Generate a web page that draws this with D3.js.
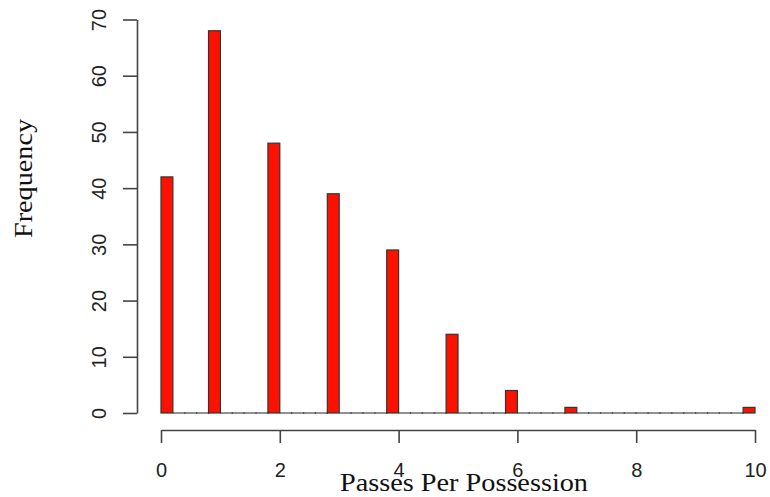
<!DOCTYPE html>
<html>
<head>
<meta charset="utf-8">
<script src="https://cdn.jsdelivr.net/npm/d3@7"></script>
<style>
  body { margin: 0; background: #fff; }
  svg { display: block; }
  .tick text { font-family: "Liberation Sans", Arial, sans-serif; }
</style>
</head>
<body>
<svg width="770" height="497"></svg>
<script>
const PASSES = [0, 1, 2, 3, 4, 5, 6, 7, 8, 9, 10]
const COUNTS = [42, 68, 48, 39, 29, 14, 4, 1, 0, 0, 1]
const BIN_WIDTH = 0.2
const X_TICKS = [0, 2, 4, 6, 8, 10]
const Y_TICKS = [0, 10, 20, 30, 40, 50, 60, 70]

const svg = d3.select('svg')
const x = d3.scaleLinear().domain([0, 10]).range([161, 755])
const y = d3.scaleLinear().domain([0, 70]).range([413, 19.5])

// R-style hist bins: right-closed, lowest included
const breaks = d3.range(0, 10 + BIN_WIDTH / 2, BIN_WIDTH)
const bins = breaks.slice(0, -1).map((b, i) => ({ x0: b, x1: breaks[i + 1], n: 0 }))
PASSES.forEach((p, i) => {
  const idx = p === 0 ? 0 : Math.round(p / BIN_WIDTH) - 1
  bins[idx].n += COUNTS[i]
})

// empty bins collapse to a flat line with tiny edge marks
const empty = bins.filter(d => d.n === 0)
const flat = svg.append('g').attr('stroke', '#555').attr('stroke-width', 1.3)
flat.selectAll('line.base')
  .data(empty)
  .enter().append('line')
  .attr('class', 'base')
  .attr('x1', d => x(d.x0))
  .attr('x2', d => x(d.x1))
  .attr('y1', y(0))
  .attr('y2', y(0))
flat.selectAll('line.edge')
  .data(empty)
  .enter().append('line')
  .attr('class', 'edge')
  .attr('x1', d => x(d.x1))
  .attr('x2', d => x(d.x1))
  .attr('y1', y(0) - 1)
  .attr('y2', y(0) + 1)

svg.append('g')
  .selectAll('rect')
  .data(bins.filter(d => d.n > 0))
  .enter().append('rect')
  .attr('x', d => x(d.x0))
  .attr('width', d => x(d.x1) - x(d.x0))
  .attr('y', d => y(d.n))
  .attr('height', d => y(0) - y(d.n))
  .attr('fill', '#ff1100')
  .attr('stroke', '#333')
  .attr('stroke-width', 1.2)

// y axis
const yAxis = svg.append('g')
  .attr('transform', 'translate(137,0)')
  .call(d3.axisLeft(y).tickValues(Y_TICKS).tickSize(14).tickSizeOuter(0))
yAxis.select('.domain').attr('stroke', '#444').attr('stroke-width', 1.6)
yAxis.selectAll('.tick line').attr('stroke', '#444').attr('stroke-width', 1.6)
yAxis.selectAll('.tick text')
  .attr('font-size', 20)
  .attr('fill', '#222')
  .attr('text-anchor', 'middle')
  .attr('transform', 'rotate(-90)')
  .attr('x', 0)
  .attr('y', -31)
  .attr('dy', 0)

// x axis
const xAxis = svg.append('g')
  .attr('transform', 'translate(0,430)')
  .call(d3.axisBottom(x).tickValues(X_TICKS).tickSize(13).tickSizeOuter(0))
xAxis.select('.domain').attr('stroke', '#444').attr('stroke-width', 1.6)
xAxis.selectAll('.tick line').attr('stroke', '#444').attr('stroke-width', 1.6)
xAxis.selectAll('.tick text')
  .attr('font-size', 20)
  .attr('fill', '#222')
  .attr('y', 47)
  .attr('dy', 0)

// titles
svg.append('text')
  .attr('x', 464)
  .attr('y', 491)
  .attr('text-anchor', 'middle')
  .attr('font-family', '"Liberation Serif", "DejaVu Serif", serif')
  .attr('font-size', 26)
  .attr('fill', '#111')
  .attr('textLength', 248)
  .attr('lengthAdjust', 'spacingAndGlyphs')
  .text('Passes Per Possession')

svg.append('text')
  .attr('transform', 'translate(32,178.5) rotate(-90)')
  .attr('text-anchor', 'middle')
  .attr('font-family', '"Liberation Serif", "DejaVu Serif", serif')
  .attr('font-size', 26)
  .attr('fill', '#111')
  .attr('textLength', 119)
  .attr('lengthAdjust', 'spacingAndGlyphs')
  .text('Frequency')
</script>
</body>
</html>
